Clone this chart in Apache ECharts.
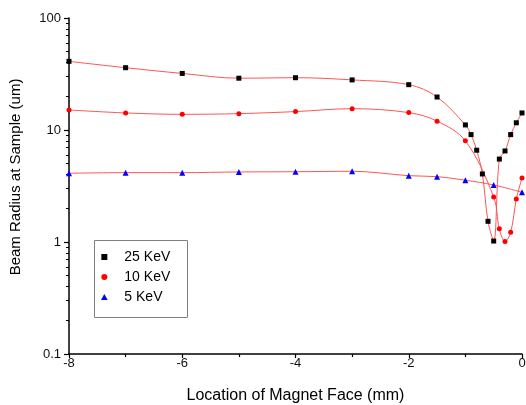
<!DOCTYPE html>
<html>
<head>
<meta charset="utf-8">
<script src="https://cdn.jsdelivr.net/npm/echarts@6/dist/echarts.min.js"></script>
<style>html,body{margin:0;padding:0;background:#fff;}#c{width:526px;height:405px;}</style>
</head>
<body>
<div id="c"></div>
<script>
// Data
var x25 = [-8, -7, -6, -5, -4, -3, -2, -1.5, -1, -0.9, -0.8, -0.7, -0.6, -0.5, -0.4, -0.3, -0.2, -0.1, 0];
var y25 = [41, 36, 32, 29, 29.3, 28, 25.4, 19.7, 11.1, 9.1, 6.6, 4.05, 1.53, 1.02, 5.5, 6.5, 9.1, 11.6, 14.2];
var x10 = [-8, -7, -6, -5, -4, -3, -2, -1.5, -1, -0.5, -0.4, -0.3, -0.2, -0.1, 0];
var y10 = [15.1, 14.2, 13.8, 14.0, 14.6, 15.5, 14.3, 12.0, 8.0, 2.52, 1.31, 1.01, 1.22, 2.42, 3.73];
var x5 = [-8, -7, -6, -5, -4, -3, -2, -1.5, -1, -0.5, 0];
var y5 = [4.11, 4.16, 4.16, 4.22, 4.24, 4.28, 3.91, 3.83, 3.56, 3.23, 2.78];
var seriesNames = ['25 KeV', '10 KeV', '5 KeV'];
var xTicks = [-8, -6, -4, -2, 0];
var yMinorTicks = [0.2,0.3,0.4,0.5,0.6,0.7,0.8,0.9,2,3,4,5,6,7,8,9,20,30,40,50,60,70,80,90];

function pairs(xs, ys) { return xs.map(function (x, i) { return [x, ys[i]]; }); }

var FONT = 'Liberation Sans, Arial, sans-serif';
var lineStyle = { color: '#ff5555', width: 1 };

var chart = echarts.init(document.getElementById('c'), null, { renderer: 'canvas' });
chart.setOption({
  animation: false,
  backgroundColor: '#fff',
  textStyle: { fontFamily: FONT },
  grid: { left: 69, right: 4, top: 18, bottom: 51, containLabel: false, outerBoundsMode: 'none' },
  graphic: [{
    type: 'rect', left: 94, top: 240, z: 0,
    shape: { width: 93, height: 77 },
    style: { fill: '#fff', stroke: '#808080', lineWidth: 1 }
  }],
  legend: {
    orient: 'vertical', left: 96, top: 245, itemWidth: 30, itemHeight: 6, itemGap: 6,
    symbolKeepAspect: true, z: 5,
    textStyle: { fontFamily: FONT, fontSize: 14, color: '#000', lineHeight: 13 },
    data: [
      { name: seriesNames[0], icon: 'path://M0,0L10,0L10,10L0,10Z' },
      { name: seriesNames[1], icon: 'circle' },
      { name: seriesNames[2], icon: 'path://M5,0L10,9L0,9Z' }
    ]
  },
  xAxis: {
    type: 'value', min: -8, max: 0, interval: 2,
    name: 'Location of Magnet Face (mm)', nameLocation: 'middle', nameGap: 34,
    nameTextStyle: { fontFamily: FONT, fontSize: 16, color: '#000' },
    axisLine: { show: true, onZero: false, lineStyle: { color: '#000', width: 1.5 } },
    axisTick: { show: true, inside: false, length: 4, lineStyle: { color: '#000', width: 1.2 } },
    minorTick: { show: true, splitNumber: 2, length: 3, lineStyle: { color: '#000', width: 1.2 } },
    axisLabel: { fontFamily: FONT, fontSize: 13, color: '#111', margin: 3,
      formatter: function (v) { return xTicks.indexOf(v) >= 0 ? String(v) : ''; } },
    splitLine: { show: false }
  },
  yAxis: [{
    type: 'log', logBase: 10, min: 0.1, max: 100,
    name: 'Beam Radius at Sample (um)', nameLocation: 'middle', nameGap: 46,
    nameTextStyle: { fontFamily: FONT, fontSize: 15, color: '#000', padding: [0, 0, 0, 18] },
    axisLine: { show: true, onZero: false, lineStyle: { color: '#000', width: 1.5 } },
    axisTick: { show: true, inside: false, length: 5, lineStyle: { color: '#000', width: 1.2 } },
    axisLabel: { fontFamily: FONT, fontSize: 13, color: '#111', margin: 8,
      formatter: function (v) { return String(+v.toPrecision(3)); } },
    splitLine: { show: false }
  }, {
    type: 'log', logBase: 10, min: 0.1, max: 100, position: 'left',
    axisLine: { show: false, onZero: false },
    axisTick: { show: true, inside: false, length: 3, customValues: yMinorTicks, lineStyle: { color: '#000', width: 1 } },
    axisLabel: { show: false },
    splitLine: { show: false }
  }],
  series: [{
    name: seriesNames[0], type: 'line', smooth: 0.35, data: pairs(x25, y25),
    symbol: 'rect', symbolSize: 5, itemStyle: { color: '#000' }, lineStyle: lineStyle, z: 4
  }, {
    name: seriesNames[1], type: 'line', smooth: 0.35, data: pairs(x10, y10),
    symbol: 'circle', symbolSize: 5, itemStyle: { color: '#ff0000' }, lineStyle: lineStyle, z: 3
  }, {
    name: seriesNames[2], type: 'line', smooth: 0.35, data: pairs(x5, y5),
    symbol: 'triangle', symbolSize: 6, itemStyle: { color: '#0000ff' }, lineStyle: lineStyle, z: 2
  }]
});
</script>
</body>
</html>
